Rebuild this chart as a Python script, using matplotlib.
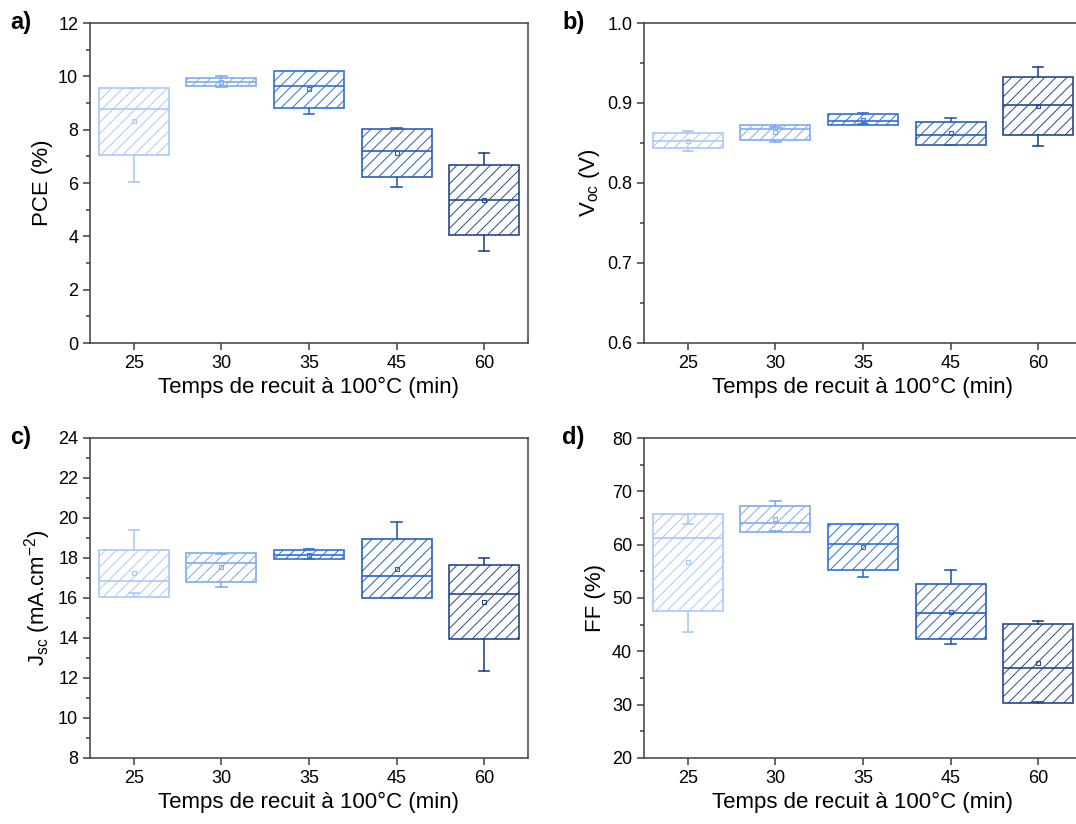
import numpy as np
import matplotlib
matplotlib.use("Agg")
import matplotlib.pyplot as plt
from matplotlib.ticker import MultipleLocator

plt.rcParams['font.family'] = ['Liberation Sans', 'DejaVu Sans']
plt.rcParams['hatch.linewidth'] = 0.7

# temps de recuit (min)
temps = ['25', '30', '35', '45', '60']
couleurs = ['#a9c8f7', '#7fabef', '#2f70de', '#2b5cbd', '#26488f']

# stats : q1, mediane, q3, moustache basse, moustache haute, moyenne
pce_q1 = [7.05, 9.62, 8.82, 6.24, 4.04]
pce_med = [8.79, 9.80, 9.62, 7.19, 5.35]
pce_q3 = [9.55, 9.95, 10.19, 8.01, 6.66]
pce_lo = [6.02, 9.59, 8.57, 5.85, 3.45]
pce_hi = [9.55, 10.00, 10.20, 8.05, 7.14]
pce_moy = [8.32, 9.80, 9.51, 7.12, 5.35]

voc_q1 = [0.844, 0.854, 0.8725, 0.848, 0.860]
voc_med = [0.852, 0.8675, 0.8775, 0.860, 0.8975]
voc_q3 = [0.8625, 0.872, 0.886, 0.876, 0.933]
voc_lo = [0.840, 0.851, 0.874, 0.848, 0.846]
voc_hi = [0.865, 0.870, 0.888, 0.881, 0.945]
voc_moy = [0.853, 0.864, 0.879, 0.8625, 0.896]

jsc_q1 = [16.05, 16.80, 17.93, 15.98, 13.93]
jsc_med = [16.85, 17.73, 18.14, 17.09, 16.20]
jsc_q3 = [18.39, 18.26, 18.41, 18.93, 17.66]
jsc_lo = [16.23, 16.55, 17.93, 15.98, 12.37]
jsc_hi = [19.41, 18.18, 18.46, 19.79, 17.99]
jsc_moy = [17.23, 17.54, 18.16, 17.46, 15.80]

ff_q1 = [47.6, 62.3, 55.25, 42.4, 30.4]
ff_med = [61.3, 64.1, 60.2, 47.1, 36.9]
ff_q3 = [65.8, 67.25, 63.9, 52.6, 45.2]
ff_lo = [43.6, 62.6, 54.0, 41.3, 30.5]
ff_hi = [63.9, 68.2, 63.9, 55.25, 45.6]
ff_moy = [56.75, 64.75, 59.6, 47.4, 37.75]


def boites(ax, q1, med, q3, lo, hi, moy):
    for i in range(len(temps)):
        st = [dict(q1=q1[i], med=med[i], q3=q3[i], whislo=lo[i], whishi=hi[i],
                   mean=moy[i], fliers=[], label=temps[i])]
        c = couleurs[i]
        ax.bxp(st, positions=[i + 1], widths=0.8, capwidths=0.12,
               patch_artist=True, showmeans=True, showfliers=False,
               boxprops=dict(facecolor='white', edgecolor=c, hatch='///', linewidth=1.2),
               medianprops=dict(color=c, linewidth=1.2),
               whiskerprops=dict(color=c, linewidth=1.2),
               capprops=dict(color=c, linewidth=1.2),
               meanprops=dict(marker='s', markersize=2.5, markerfacecolor='none',
                              markeredgecolor=c, markeredgewidth=0.8))
    ax.set_xlim(0.5, 5.5)
    ax.set_xticks(range(1, 6))
    ax.set_xticklabels(temps)
    ax.set_xlabel('Temps de recuit à 100°C (min)', fontsize=16, labelpad=4)
    for s in ax.spines.values():
        s.set_color('#404040')
        s.set_linewidth(1.1)
    ax.tick_params(axis='both', which='major', direction='out', length=5,
                   width=1.1, color='#404040', labelsize=13)
    ax.tick_params(axis='y', which='minor', direction='out', length=3,
                   width=1.1, color='#404040')
    ax.tick_params(axis='x', which='minor', bottom=False)


fig = plt.figure(figsize=(10.76, 8.24), dpi=100)
w = 438 / 1076
h = 320 / 824
ax_a = fig.add_axes([90 / 1076, 1 - 343 / 824, w, h])
ax_b = fig.add_axes([644 / 1076, 1 - 343 / 824, w, h])
ax_c = fig.add_axes([90 / 1076, 1 - 758 / 824, w, h])
ax_d = fig.add_axes([644 / 1076, 1 - 758 / 824, w, h])

boites(ax_a, pce_q1, pce_med, pce_q3, pce_lo, pce_hi, pce_moy)
ax_a.set_ylim(0, 12)
ax_a.yaxis.set_major_locator(MultipleLocator(2))
ax_a.yaxis.set_minor_locator(MultipleLocator(1))
ax_a.set_ylabel('PCE (%)', fontsize=16)

boites(ax_b, voc_q1, voc_med, voc_q3, voc_lo, voc_hi, voc_moy)
ax_b.set_ylim(0.6, 1.0)
ax_b.yaxis.set_major_locator(MultipleLocator(0.1))
ax_b.yaxis.set_minor_locator(MultipleLocator(0.05))
ax_b.set_ylabel(r'V$\mathregular{_{oc}}$ (V)', fontsize=16)

boites(ax_c, jsc_q1, jsc_med, jsc_q3, jsc_lo, jsc_hi, jsc_moy)
ax_c.set_ylim(8, 24)
ax_c.yaxis.set_major_locator(MultipleLocator(2))
ax_c.yaxis.set_minor_locator(MultipleLocator(1))
ax_c.set_ylabel(r'J$\mathregular{_{sc}}$ (mA.cm$\mathregular{^{-2}}$)', fontsize=16)

boites(ax_d, ff_q1, ff_med, ff_q3, ff_lo, ff_hi, ff_moy)
ax_d.set_ylim(20, 80)
ax_d.yaxis.set_major_locator(MultipleLocator(10))
ax_d.yaxis.set_minor_locator(MultipleLocator(5))
ax_d.set_ylabel('FF (%)', fontsize=16)

for lab, (x, y) in zip(['a)', 'b)', 'c)', 'd)'],
                       [(10, 22), (562, 22), (10, 437), (562, 437)]):
    fig.text(x / 1076, 1 - y / 824, lab, fontsize=17, fontweight='bold',
             ha='left', va='center')

fig.savefig('out.png', dpi=100)
